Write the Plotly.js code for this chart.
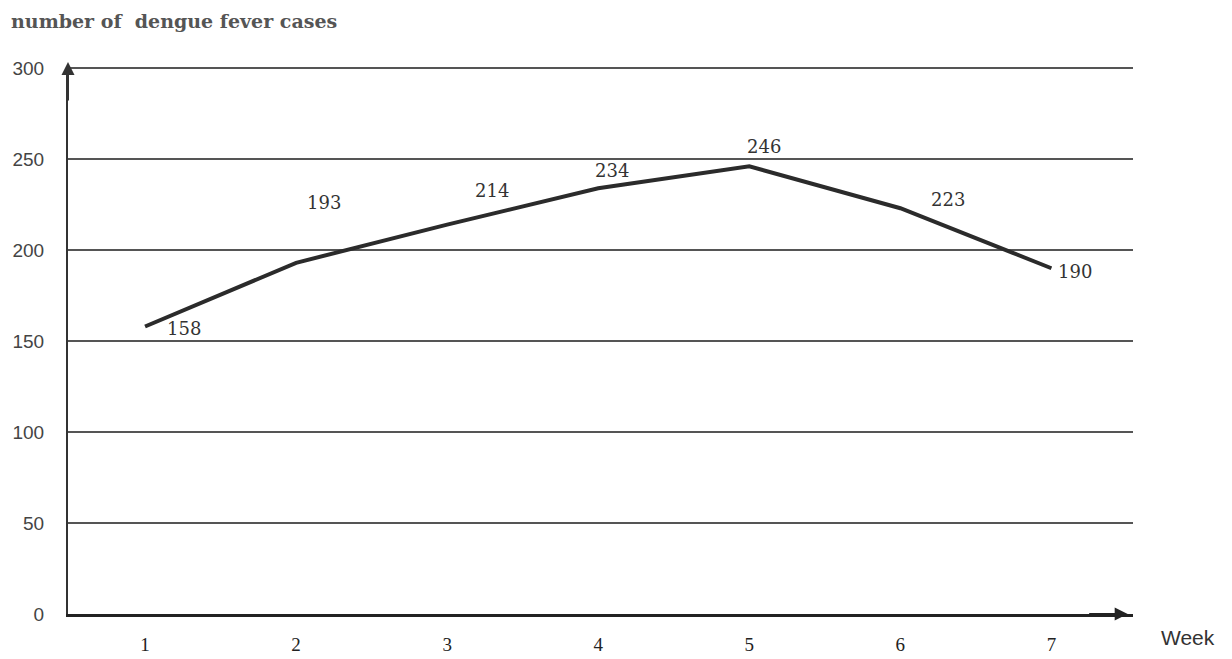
<!DOCTYPE html>
<html>
<head>
<meta charset="utf-8">
<script src="https://cdn.plot.ly/plotly-3.0.1.min.js"></script>
<style>html,body{margin:0;padding:0;background:#fff;}#chart{width:1232px;height:659px;}</style>
</head>
<body>
<div id="chart"></div>
<script>
const weeks = [1, 2, 3, 4, 5, 6, 7];
const cases = [158, 193, 214, 234, 246, 223, 190];
const yTicks = [0, 50, 100, 150, 200, 250, 300];
const yTitle = "number of  dengue fever cases";
const xTitle = "Week";

// label offsets (pixels) relative to each point
const labelDX = [39, 28, 45, 14, 15, 48, 24];
const labelDY = [-2, 60, 34, 18, 20, 9, -3];

const annotations = weeks.map((w, i) => ({
  x: w, y: cases[i], xref: 'x', yref: 'y', text: String(cases[i]),
  showarrow: false, xshift: labelDX[i], yshift: labelDY[i],
  font: {family: 'DejaVu Serif, serif', size: 18, color: '#333'}
}));

annotations.push({
  xref: 'paper', yref: 'paper', x: -0.055, y: 1.0, yshift: 46, xanchor: 'left', yanchor: 'middle',
  text: '<b>' + yTitle + '</b>', showarrow: false,
  font: {family: 'DejaVu Serif, serif', size: 19, color: '#555'}
});
annotations.push({
  xref: 'paper', yref: 'paper', x: 1.0, y: 0, xshift: 26, yshift: -23, xanchor: 'left', yanchor: 'middle',
  text: xTitle, showarrow: false,
  font: {family: 'Liberation Sans, sans-serif', size: 21, color: '#333'}
});
// axis arrows
annotations.push({
  xref: 'paper', yref: 'y', x: 0, y: 300, ax: 0, ay: 40, axref: 'pixel', ayref: 'pixel',
  yshift: 6, showarrow: true, arrowhead: 2, arrowsize: 1.3, arrowwidth: 2, arrowcolor: '#333', text: ''
});
annotations.push({
  xref: 'paper', yref: 'y', x: 0.995, y: 0, ax: -40, ay: 0,
  showarrow: true, arrowhead: 2, arrowsize: 1.3, arrowwidth: 2, arrowcolor: '#222', text: ''
});

const trace = {
  x: weeks, y: cases, type: 'scatter', mode: 'lines',
  line: {color: '#2b2b2b', width: 4},
  hoverinfo: 'x+y'
};

const layout = {
  width: 1232, height: 659,
  margin: {l: 68, r: 99, t: 67, b: 45},
  paper_bgcolor: '#fff', plot_bgcolor: '#fff',
  showlegend: false,
  xaxis: {
    range: [0.49, 7.54], tickvals: weeks, ticktext: weeks.map(String),
    showgrid: false, zeroline: false, showline: true, linecolor: '#222', linewidth: 2.5,
    ticks: '', ticklabelstandoff: 12,
    tickfont: {family: 'Liberation Serif, serif', size: 19, color: '#222'}
  },
  yaxis: {
    range: [0, 300.6], tickvals: yTicks, ticktext: yTicks.map(String),
    showgrid: true, gridcolor: '#555', gridwidth: 1.2,
    zeroline: false, showline: true, linecolor: '#333', linewidth: 2,
    ticks: '', ticklabelstandoff: 18,
    tickfont: {family: 'Liberation Sans, sans-serif', size: 19, color: '#444'}
  },
  annotations: annotations
};

Plotly.newPlot('chart', [trace], layout, {displayModeBar: false, staticPlot: true});
</script>
</body>
</html>
